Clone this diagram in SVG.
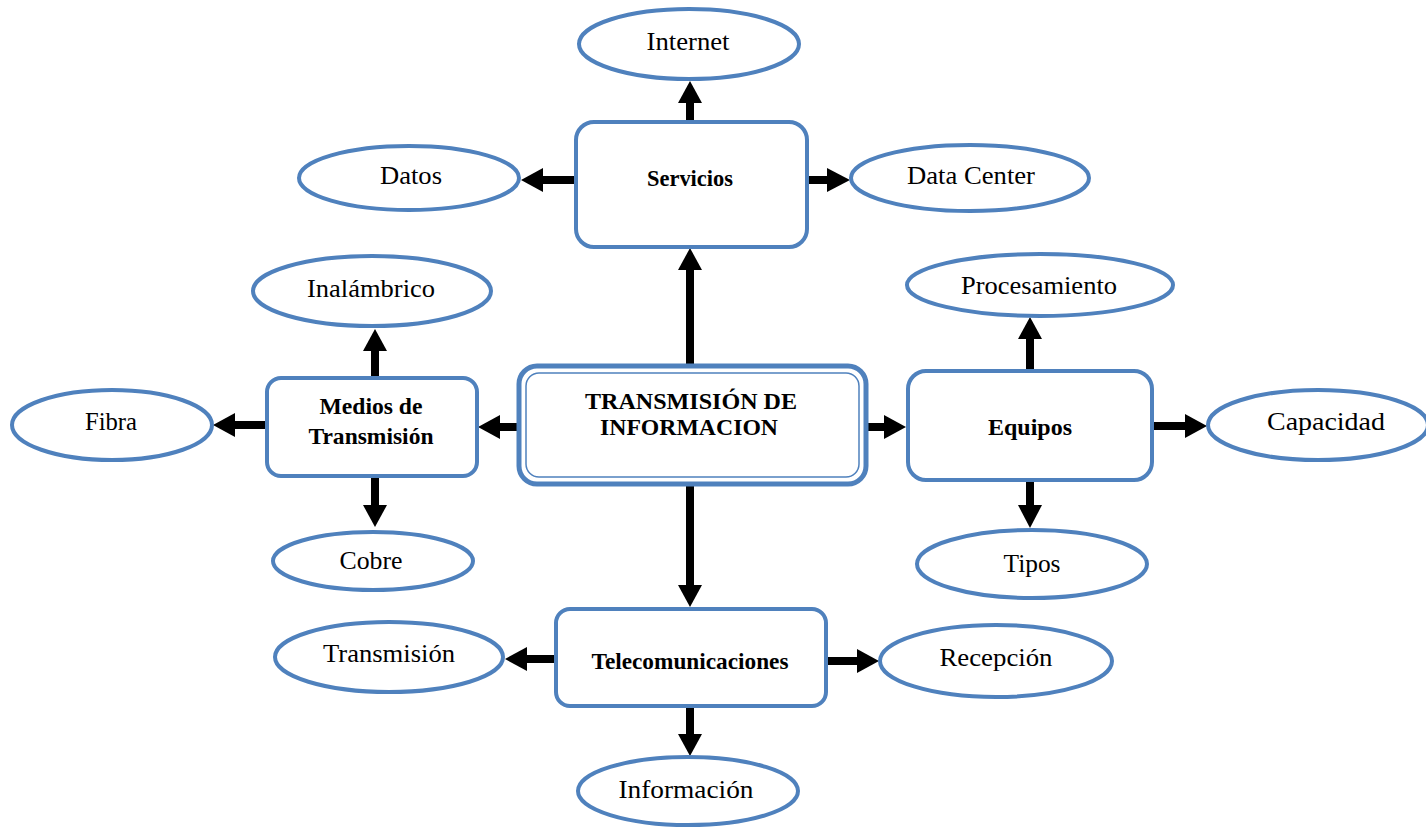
<svg xmlns="http://www.w3.org/2000/svg" width="1426" height="827" viewBox="0 0 1426 827">
  <defs>
    <style>
      .box { fill: #ffffff; stroke: #4f81bd; stroke-width: 4; }
      .oval { fill: #ffffff; stroke: #4f81bd; stroke-width: 4; }
      .lbl { font-family: "Liberation Serif", "Times New Roman", serif; font-size: 25px; fill: #000000; text-anchor: middle; }
      .bold { font-weight: bold; font-size: 24px; }
      .edge { stroke: #000000; stroke-width: 8; fill: none; }
      .head { fill: #000000; }
    </style>
  </defs>
  <rect x="0" y="0" width="1426" height="827" fill="#ffffff"/>

  <!-- connectors: shafts plus arrowheads -->
  <g id="connectors">
    <!-- centre to Servicios -->
    <line class="edge" x1="690" y1="367" x2="690" y2="268"/>
    <polygon class="head" points="678,270 702,270 690,248"/>
    <!-- Servicios to Internet -->
    <line class="edge" x1="690" y1="122" x2="690" y2="100"/>
    <polygon class="head" points="678,103 702,103 690,81"/>
    <!-- Servicios to Datos -->
    <line class="edge" x1="576" y1="180" x2="540" y2="180"/>
    <polygon class="head" points="543,168 543,192 521,180"/>
    <!-- Servicios to Data Center -->
    <line class="edge" x1="807" y1="180" x2="830" y2="180"/>
    <polygon class="head" points="827,168 827,192 850,180"/>
    <!-- centre to Medios -->
    <line class="edge" x1="518" y1="427" x2="497" y2="427"/>
    <polygon class="head" points="500,415 500,439 478,427"/>
    <!-- Medios to Fibra -->
    <line class="edge" x1="267" y1="425" x2="232" y2="425"/>
    <polygon class="head" points="235,413 235,437 213,425"/>
    <!-- Medios to Inalambrico -->
    <line class="edge" x1="375" y1="378" x2="375" y2="348"/>
    <polygon class="head" points="363,351 387,351 375,329"/>
    <!-- Medios to Cobre -->
    <line class="edge" x1="375" y1="477" x2="375" y2="508"/>
    <polygon class="head" points="363,505 387,505 375,527"/>
    <!-- centre to Equipos -->
    <line class="edge" x1="866" y1="427" x2="887" y2="427"/>
    <polygon class="head" points="884,415 884,439 906,427"/>
    <!-- Equipos to Procesamiento -->
    <line class="edge" x1="1030" y1="370" x2="1030" y2="336"/>
    <polygon class="head" points="1018,339 1042,339 1030,317"/>
    <!-- Equipos to Capacidad -->
    <line class="edge" x1="1152" y1="426" x2="1188" y2="426"/>
    <polygon class="head" points="1185,414 1185,438 1207,426"/>
    <!-- Equipos to Tipos -->
    <line class="edge" x1="1030" y1="480" x2="1030" y2="508"/>
    <polygon class="head" points="1018,505 1042,505 1030,528"/>
    <!-- centre to Telecomunicaciones -->
    <line class="edge" x1="690" y1="485" x2="690" y2="588"/>
    <polygon class="head" points="678,585 702,585 690,607"/>
    <!-- Telecomunicaciones to Transmision -->
    <line class="edge" x1="556" y1="659" x2="524" y2="659"/>
    <polygon class="head" points="527,647 527,671 505,659"/>
    <!-- Telecomunicaciones to Recepcion -->
    <line class="edge" x1="826" y1="661" x2="860" y2="661"/>
    <polygon class="head" points="857,649 857,673 879,661"/>
    <!-- Telecomunicaciones to Informacion -->
    <line class="edge" x1="690" y1="707" x2="690" y2="737"/>
    <polygon class="head" points="678,734 702,734 690,756"/>
  </g>

  <!-- central node with double border -->
  <g id="transmision-de-informacion">
    <rect x="519" y="366" width="347" height="118" rx="18" fill="#ffffff" stroke="#4f81bd" stroke-width="5"/>
    <rect x="526" y="373" width="333" height="104" rx="13" fill="none" stroke="#4f81bd" stroke-width="1.5"/>
    <text class="lbl bold" x="691" y="409" textLength="212" lengthAdjust="spacingAndGlyphs">TRANSMISIÓN DE</text>
    <text class="lbl bold" x="689" y="435" textLength="178" lengthAdjust="spacingAndGlyphs">INFORMACION</text>
  </g>

  <g id="servicios">
    <rect class="box" x="576" y="122" width="231" height="125" rx="18"/>
    <text class="lbl bold" x="690" y="186" textLength="86" lengthAdjust="spacingAndGlyphs">Servicios</text>
  </g>
  <g id="internet">
    <ellipse class="oval" cx="689" cy="44" rx="110" ry="35"/>
    <text class="lbl" x="688" y="50" textLength="83" lengthAdjust="spacingAndGlyphs">Internet</text>
  </g>
  <g id="datos">
    <ellipse class="oval" cx="409" cy="178" rx="110" ry="32"/>
    <text class="lbl" x="411" y="184" textLength="62" lengthAdjust="spacingAndGlyphs">Datos</text>
  </g>
  <g id="data-center">
    <ellipse class="oval" cx="970" cy="178" rx="119" ry="33"/>
    <text class="lbl" x="971" y="184" textLength="128" lengthAdjust="spacingAndGlyphs">Data Center</text>
  </g>

  <g id="medios-de-transmision">
    <rect class="box" x="267" y="378" width="210" height="98" rx="14"/>
    <text class="lbl bold" x="371" y="414" textLength="103" lengthAdjust="spacingAndGlyphs">Medios de</text>
    <text class="lbl bold" x="371" y="444" textLength="125" lengthAdjust="spacingAndGlyphs">Transmisión</text>
  </g>
  <g id="inalambrico">
    <ellipse class="oval" cx="372" cy="291" rx="119" ry="35"/>
    <text class="lbl" x="371" y="297" textLength="128" lengthAdjust="spacingAndGlyphs">Inalámbrico</text>
  </g>
  <g id="fibra">
    <ellipse class="oval" cx="112" cy="425" rx="100" ry="35"/>
    <text class="lbl" x="111" y="430" textLength="52" lengthAdjust="spacingAndGlyphs">Fibra</text>
  </g>
  <g id="cobre">
    <ellipse class="oval" cx="373" cy="561" rx="100" ry="29"/>
    <text class="lbl" x="371" y="569" textLength="63" lengthAdjust="spacingAndGlyphs">Cobre</text>
  </g>

  <g id="equipos">
    <rect class="box" x="908" y="371" width="244" height="109" rx="18"/>
    <text class="lbl bold" x="1030" y="435" textLength="84" lengthAdjust="spacingAndGlyphs">Equipos</text>
  </g>
  <g id="procesamiento">
    <ellipse class="oval" cx="1040" cy="285" rx="133" ry="31"/>
    <text class="lbl" x="1039" y="294" textLength="156" lengthAdjust="spacingAndGlyphs">Procesamiento</text>
  </g>
  <g id="capacidad">
    <ellipse class="oval" cx="1318" cy="425" rx="110" ry="35"/>
    <text class="lbl" x="1326" y="430" textLength="118" lengthAdjust="spacingAndGlyphs">Capacidad</text>
  </g>
  <g id="tipos">
    <ellipse class="oval" cx="1032" cy="564" rx="115" ry="34"/>
    <text class="lbl" x="1032" y="572" textLength="57" lengthAdjust="spacingAndGlyphs">Tipos</text>
  </g>

  <g id="telecomunicaciones">
    <rect class="box" x="556" y="609" width="270" height="97" rx="14"/>
    <text class="lbl bold" x="690" y="669" textLength="197" lengthAdjust="spacingAndGlyphs">Telecomunicaciones</text>
  </g>
  <g id="transmision">
    <ellipse class="oval" cx="389" cy="657" rx="114" ry="35"/>
    <text class="lbl" x="389" y="662" textLength="132" lengthAdjust="spacingAndGlyphs">Transmisión</text>
  </g>
  <g id="recepcion">
    <ellipse class="oval" cx="996" cy="661" rx="116" ry="36"/>
    <text class="lbl" x="996" y="666" textLength="113" lengthAdjust="spacingAndGlyphs">Recepción</text>
  </g>
  <g id="informacion">
    <ellipse class="oval" cx="688" cy="791" rx="110" ry="34"/>
    <text class="lbl" x="686" y="798" textLength="135" lengthAdjust="spacingAndGlyphs">Información</text>
  </g>
</svg>
